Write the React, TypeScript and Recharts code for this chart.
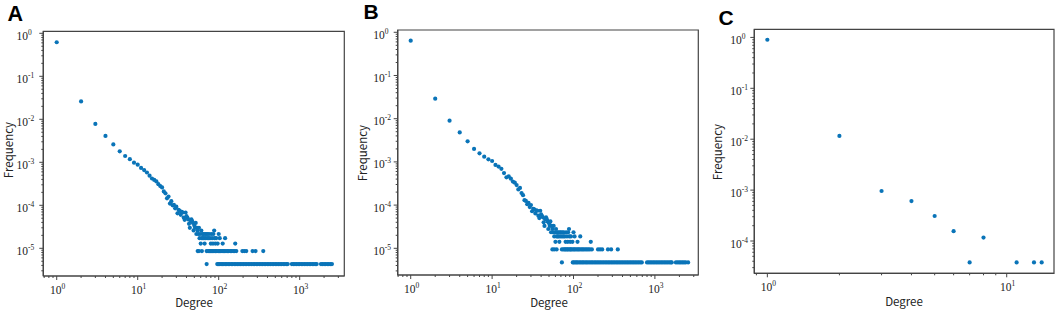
import React from 'react';
import { ScatterChart, Scatter, XAxis, YAxis, ReferenceArea } from 'recharts';

// ---------- Panel A: individually read points [degree, frequency] ----------
const pointsA: [number, number][] = [
  [1, 0.62], [2, 0.026], [3, 0.0078], [4, 0.0041], [5, 0.0026], [6, 0.0018], [7, 0.0014], [8, 0.00118],
  [9, 0.00098], [10, 0.00088], [11, 0.00074], [12, 0.00066], [13, 0.00058], [14, 0.00049], [15, 0.00042],
  [16, 0.00039], [17, 0.00036], [18, 0.00031], [19, 0.00028], [20, 0.00026], [21, 0.00021], [22, 0.00019],
  [23, 0.000145], [24, 0.00016], [25, 0.00011], [26, 0.000125], [27, 0.0001], [28, 0.000102], [29, 0.000085],
  [30, 0.000093], [31, 0.000065], [32, 0.000078], [33, 0.000074], [34, 0.00006], [35, 0.00007], [36, 0.000068],
  [37, 0.000052], [38, 0.000046], [39, 0.000068], [40, 0.000056], [41, 0.000052], [42, 0.000047], [43, 0.000037],
  [44, 0.00003], [45, 0.000043], [46, 0.000047], [47, 0.000043], [48, 0.000039], [49, 0.000026], [50, 0.000034],
  [51, 0.00003], [52, 0.000039], [53, 0.0000215], [54, 0.00003], [55, 0.0000258], [56, 0.0000215], [57, 0.00003],
  [58, 0.0000172], [59, 0.0000215], [60, 0.0000129], [61, 0.0000258], [62, 0.0000172], [63, 0.0000215],
  [64, 0.0000172], [65, 0.0000215], [66, 0.0000172], [67, 0.0000129], [68, 0.0000215], [69, 0.0000172],
  [70, 0.0000215], [72, 0.0000172], [73, 0.0000215], [75, 0.0000172], [76, 0.0000215], [78, 0.0000172],
  [80, 0.0000129], [81, 0.0000215], [83, 0.0000172], [85, 0.0000129], [86, 0.0000215], [88, 0.0000258],
  [89, 0.0000172], [91, 0.0000129], [93, 0.0000172], [97, 0.0000129], [100, 0.0000215], [103, 0.0000172],
  [112, 0.0000129], [120, 0.0000172], [160, 0.0000129],
];
// Panel A: rows of degrees sharing the two lowest frequencies
const rowA2Freq = 8.6e-6;
const rowA2Degrees = [55, 57, 62, 71, 74, 77, 79, 82, 84, 87, 90, 92, 95, 99, 102, 106, 110, 114, 118, 123, 128,
  133, 139, 145, 151, 158, 165, 196, 207, 219, 262, 285, 355];
const rowA1Freq = 4.3e-6;
const rowA1Degrees = [71, 96, 99, 103, 107, 111, 116, 121, 126, 131, 137, 143, 149, 156, 163, 170, 178, 186, 194,
  203, 212, 222, 232, 243, 254, 266, 278, 291, 304, 318, 333, 348, 364, 381, 399, 417, 437, 457, 478, 500, 523,
  547, 572, 599, 627, 656, 686, 712, 800, 836, 874, 914, 956, 1000, 1046, 1094, 1144, 1197, 1252, 1309, 1369,
  1432, 1498, 1567, 1620, 1830, 1914, 2002, 2094, 2190, 2290, 2395, 2500];

// ---------- Panel B ----------
const pointsB: [number, number][] = [
  [1, 0.64], [2, 0.029], [3, 0.009], [4, 0.0048], [5, 0.003], [6, 0.002], [7, 0.00158], [8, 0.00132],
  [9, 0.00115], [10, 0.00105], [11, 0.00085], [12, 0.00078], [13, 0.00069], [14, 0.00055], [15, 0.00044],
  [16, 0.00046], [17, 0.00041], [18, 0.00035], [19, 0.00033], [20, 0.00029], [21, 0.00023], [22, 0.00025],
  [23, 0.00019], [24, 0.00017], [25, 0.00013], [26, 0.000125], [27, 0.000105], [28, 0.000112], [29, 0.00009],
  [30, 0.0001], [31, 0.000072], [32, 0.000082], [33, 0.00008], [34, 0.000064], [35, 0.000076], [36, 0.000074],
  [37, 0.000057], [38, 0.00005], [39, 0.000074], [40, 0.000061], [41, 0.000056], [42, 0.000052], [43, 0.00004],
  [44, 0.000033], [45, 0.000047], [46, 0.000052], [47, 0.000047], [48, 0.000042], [49, 0.000028], [50, 0.000038],
  [51, 0.000033], [52, 0.000042], [53, 0.0000235], [54, 0.000033], [55, 0.000028], [56, 0.0000235], [57, 0.000033],
  [58, 0.0000188], [59, 0.0000235], [60, 0.0000141], [61, 0.000028], [62, 0.0000188], [63, 0.0000235],
  [64, 0.0000188], [65, 0.0000235], [66, 0.0000188], [67, 0.0000141], [68, 0.0000235], [69, 0.0000188],
  [70, 0.0000235], [72, 0.0000188], [73, 0.0000235], [75, 0.0000188], [76, 0.0000235], [78, 0.0000188],
  [80, 0.0000141], [81, 0.0000235], [83, 0.0000188], [85, 0.0000141], [86, 0.0000235], [88, 0.000028],
  [89, 0.0000188], [91, 0.0000141], [93, 0.0000188], [97, 0.0000141], [100, 0.0000235], [103, 0.0000188],
  [112, 0.0000141], [121, 0.0000188], [163, 0.0000141],
];
const rowB2Freq = 9.4e-6;
const rowB2Degrees = [55, 58, 62, 72, 75, 78, 80, 83, 85, 88, 91, 93, 96, 100, 103, 107, 111, 115, 119, 124, 129,
  134, 140, 146, 152, 159, 168, 200, 212, 225, 265, 290, 350];
const rowB1Freq = 4.7e-6;
const rowB1Degrees = [72, 98, 101, 105, 109, 113, 118, 123, 128, 133, 139, 145, 151, 158, 165, 172, 180, 188, 196,
  205, 214, 224, 234, 245, 256, 268, 280, 293, 306, 320, 335, 350, 366, 383, 401, 420, 440, 460, 481, 503, 526,
  550, 575, 602, 630, 660, 690, 800, 836, 874, 914, 956, 1000, 1046, 1094, 1144, 1197, 1252, 1309, 1369, 1432,
  1498, 1567, 1610, 1810, 1900, 1990, 2080, 2180, 2280, 2390, 2560];

// ---------- Panel C ----------
const degreesC = [1, 2, 3, 4, 5, 6, 7, 8, 11, 13, 14];
const freqC = [0.9, 0.0116, 0.00096, 0.00061, 0.00031, 0.000156, 0.000038, 0.000117, 0.000038, 0.000038, 0.000038];

const DOT = '#0a74b8';
const AXIS = '#444';

const toData = (pts: [number, number][]) => pts.map(([x, y]) => ({ x, y }));
const rowData = (degs: number[], f: number) => degs.map((x) => ({ x, y: f }));

function logTicks(min: number, max: number) {
  const out: number[] = [];
  for (let e = Math.floor(Math.log10(min)); e <= Math.ceil(Math.log10(max)); e++) {
    for (let m = 1; m <= 9; m++) {
      const v = m * Math.pow(10, e);
      if (v >= min && v <= max) out.push(v);
    }
  }
  return out;
}
const isMajor = (v: number) => Math.abs(Math.log10(v) - Math.round(Math.log10(v))) < 1e-7;

const YTick = (props: any) => {
  const { x, y, payload, labelOffset } = props;
  const v = payload.value;
  const major = isMajor(v);
  const e = Math.round(Math.log10(v));
  return (
    <g>
      <line x1={x} x2={x - (major ? 4 : 2)} y1={y} y2={y} stroke={AXIS} strokeWidth={1} />
      {major && (
        <text x={x - labelOffset} y={y + 6.5} fontFamily="Liberation Serif" fontSize={11.5} fill="#222">
          10<tspan dy={-5} fontSize={7.5}>{String(e)}</tspan>
        </text>
      )}
    </g>
  );
};

const XTick = (props: any) => {
  const { x, y, payload } = props;
  const v = payload.value;
  const major = isMajor(v);
  const e = Math.round(Math.log10(v));
  return (
    <g>
      <line x1={x} x2={x} y1={y} y2={y + (major ? 4 : 2)} stroke={AXIS} strokeWidth={1} />
      {major && (
        <text x={x + 1} y={y + 18} textAnchor="middle" fontFamily="Liberation Serif" fontSize={11.5} fill="#222">
          10<tspan dy={-5} fontSize={7.5}>{String(e)}</tspan>
        </text>
      )}
    </g>
  );
};

const Dot = (props: any) => {
  const { cx, cy } = props;
  if (cx == null || cy == null) return null;
  return <circle cx={cx} cy={cy} r={2.1} fill={DOT} />;
};

type PanelProps = {
  left: number;
  width: number;
  margin: { top: number; right: number; bottom: number; left: number };
  yAxisWidth: number;
  xAxisHeight: number;
  xDomain: [number, number];
  yDomain: [number, number];
  labelOffset: number;
  series: { x: number; y: number }[][];
};

const Panel = ({ left, width, margin, yAxisWidth, xAxisHeight, xDomain, yDomain, labelOffset, series }: PanelProps) => (
  <div style={{ position: 'absolute', left, top: 0 }}>
    <ScatterChart width={width} height={316} margin={margin}>
      <XAxis
        type="number"
        dataKey="x"
        scale="log"
        domain={xDomain}
        allowDataOverflow
        ticks={logTicks(xDomain[0], xDomain[1])}
        interval={0}
        height={xAxisHeight}
        tickSize={0}
        tickMargin={0}
        tickLine={false}
        axisLine={{ stroke: AXIS, strokeWidth: 1.2 }}
        tick={(p: any) => <XTick {...p} />}
      />
      <YAxis
        type="number"
        dataKey="y"
        scale="log"
        domain={yDomain}
        allowDataOverflow
        ticks={logTicks(yDomain[0], yDomain[1])}
        interval={0}
        width={yAxisWidth}
        tickSize={0}
        tickMargin={0}
        tickLine={false}
        axisLine={{ stroke: AXIS, strokeWidth: 1.2 }}
        tick={(p: any) => <YTick {...p} labelOffset={labelOffset} />}
      />
      <ReferenceArea
        x1={xDomain[0]}
        x2={xDomain[1]}
        y1={yDomain[0]}
        y2={yDomain[1]}
        fill="none"
        fillOpacity={0}
        stroke={AXIS}
        strokeWidth={1.2}
        ifOverflow="visible"
      />
      {series.map((d, i) => (
        <Scatter key={i} data={d} isAnimationActive={false} shape={(p: any) => <Dot {...p} />} />
      ))}
    </ScatterChart>
  </div>
);

export default function App() {
  const sans = '"Noto Sans CJK SC", "Noto Sans", sans-serif';
  return (
    <div style={{ position: 'absolute', left: 0, top: 0, width: 1059, height: 316, background: '#fff' }}>
      <Panel
        left={0}
        width={355}
        margin={{ top: 31.3, right: 10.7, bottom: 0, left: 0 }}
        yAxisWidth={43.3}
        xAxisHeight={40}
        xDomain={[0.683, 3554]}
        yDomain={[2.27e-6, 1.113]}
        labelOffset={26.7}
        series={[toData(pointsA), rowData(rowA2Degrees, rowA2Freq), rowData(rowA1Degrees, rowA1Freq)]}
      />
      <Panel
        left={355}
        width={350}
        margin={{ top: 30, right: 6.7, bottom: 0, left: 0 }}
        yAxisWidth={42.7}
        xAxisHeight={41}
        xDomain={[0.692, 3413]}
        yDomain={[2.41e-6, 1.13]}
        labelOffset={24.4}
        series={[toData(pointsB), rowData(rowB2Degrees, rowB2Freq), rowData(rowB1Degrees, rowB1Freq)]}
      />
      <Panel
        left={705}
        width={354}
        margin={{ top: 29.3, right: 5, bottom: 0, left: 0 }}
        yAxisWidth={49.3}
        xAxisHeight={42.7}
        xDomain={[0.882, 15.76]}
        yDomain={[2.32e-5, 1.443]}
        labelOffset={24}
        series={[degreesC.map((x, i) => ({ x, y: freqC[i] }))]}
      />
      <svg width={1059} height={316} style={{ position: 'absolute', left: 0, top: 0, pointerEvents: 'none' }}>
        <g fontFamily='"Liberation Sans", Arial, sans-serif' fontWeight="bold" fill="#000">
          <text x={7.5} y={21} fontSize={21.5}>A</text>
          <text x={363.5} y={18.5} fontSize={21}>B</text>
          <text x={718.5} y={25} fontSize={21}>C</text>
        </g>
        <g fontFamily={sans} fontSize={11.5} fill="#222">
          <text x={194} y={307.3} textAnchor="middle">Degree</text>
          <text x={549} y={306.7} textAnchor="middle">Degree</text>
          <text x={904} y={306} textAnchor="middle">Degree</text>
          <text transform="translate(12.5,150) rotate(-90)" textAnchor="middle">Frequency</text>
          <text transform="translate(367,153) rotate(-90)" textAnchor="middle">Frequency</text>
          <text transform="translate(721.5,152) rotate(-90)" textAnchor="middle">Frequency</text>
        </g>
      </svg>
    </div>
  );
}
